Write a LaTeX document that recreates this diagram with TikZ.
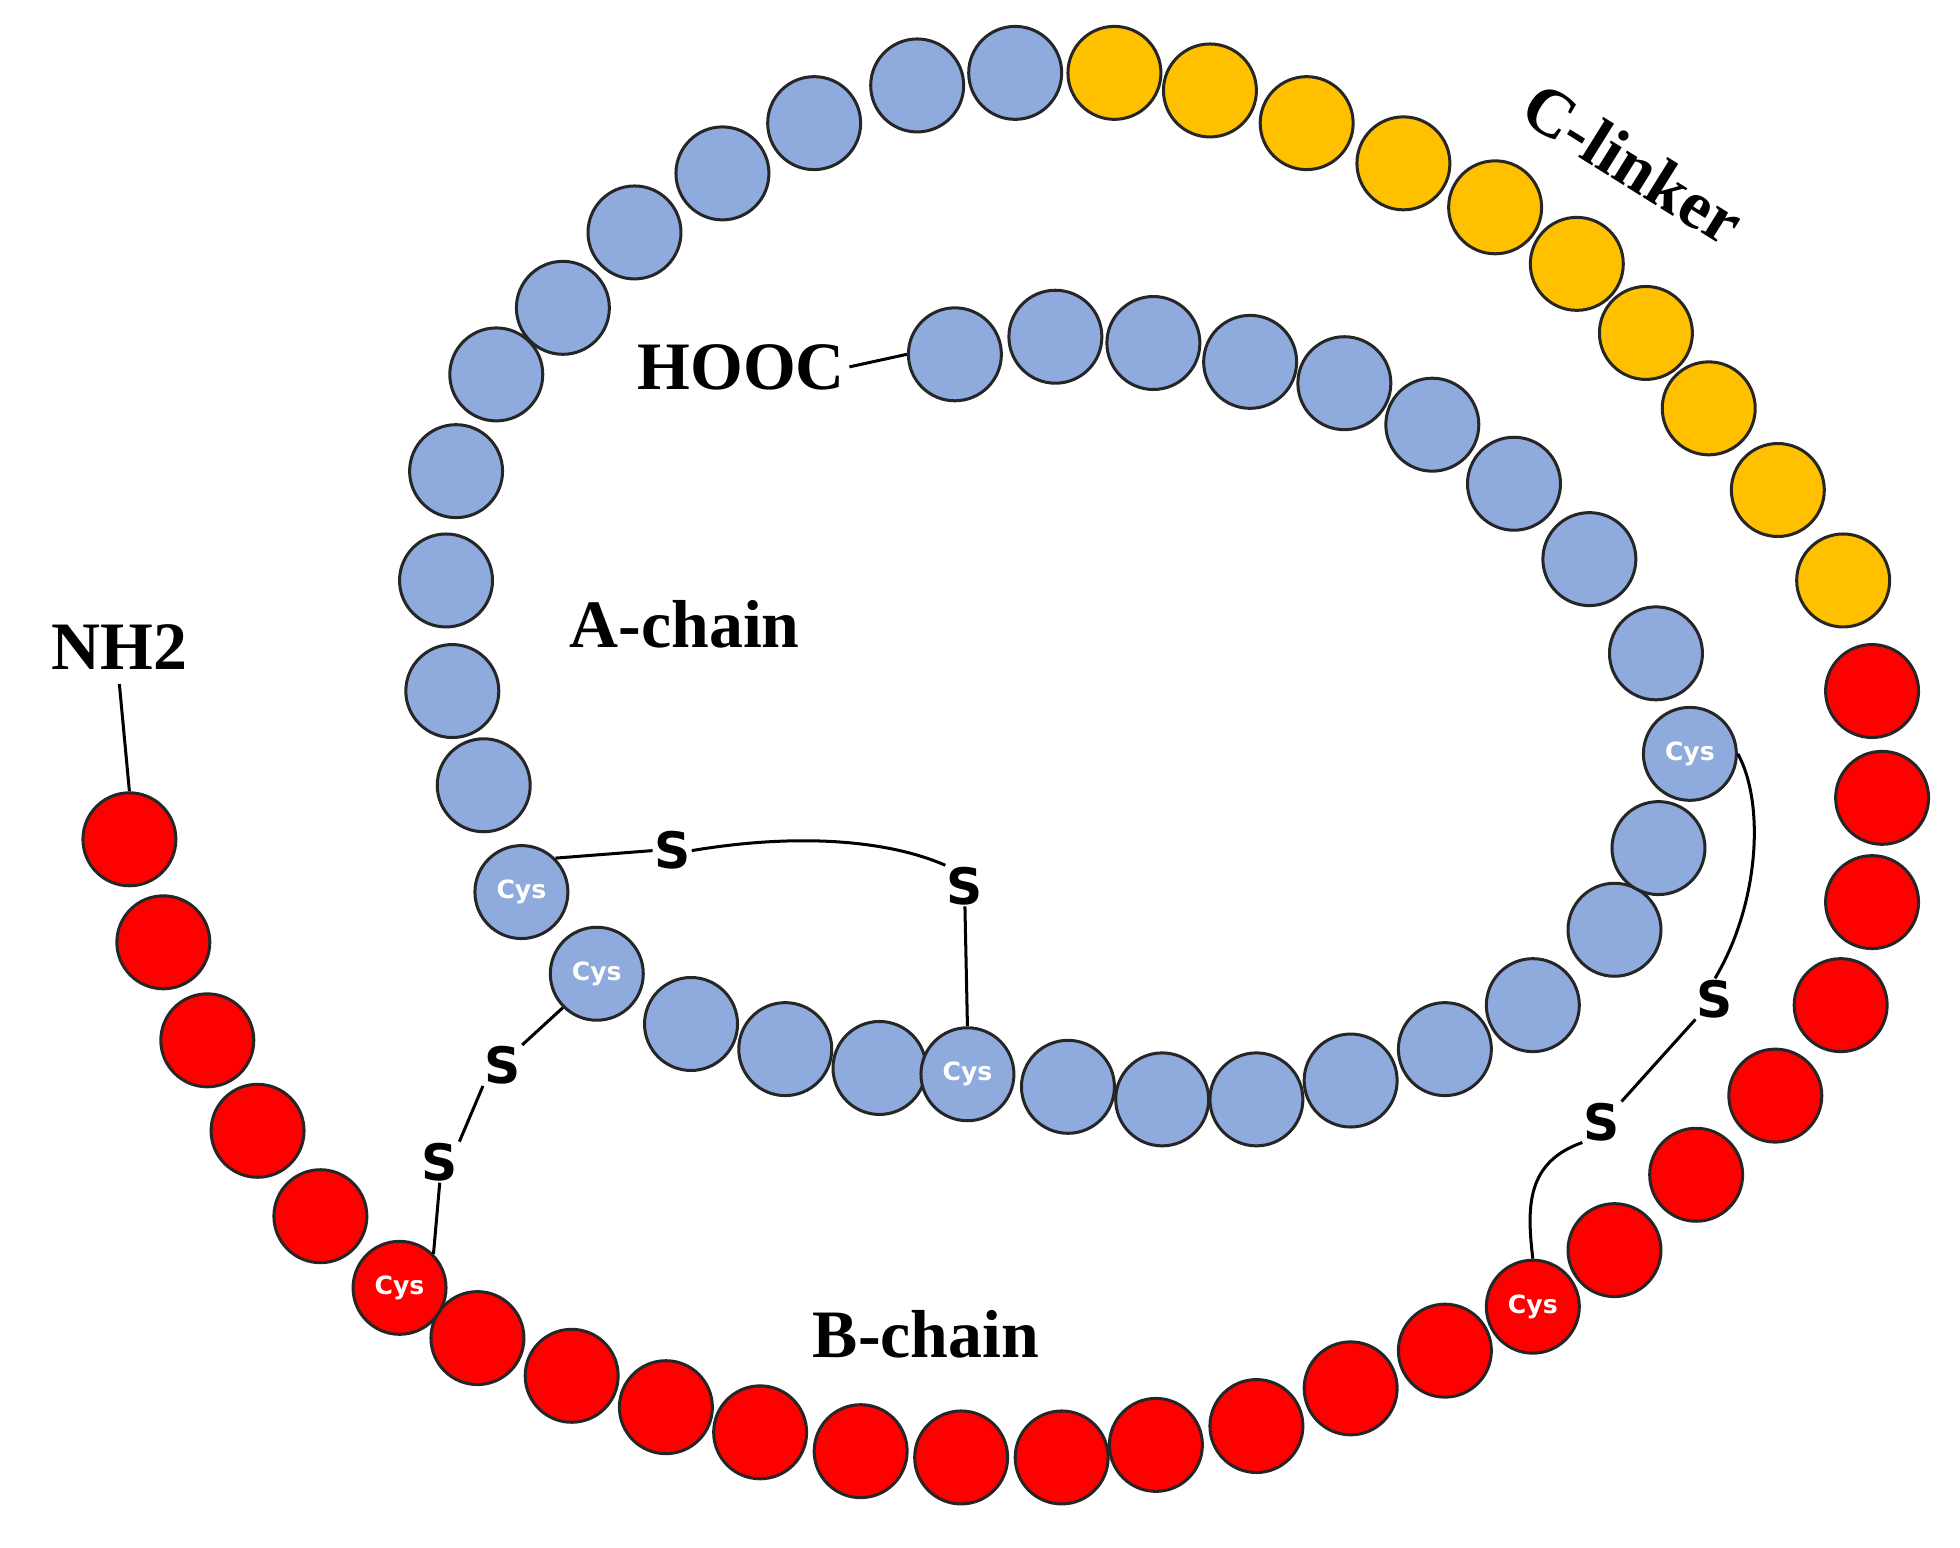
\documentclass[tikz,border=0pt]{standalone}
\usepackage{fontspec}
\setmainfont{Liberation Serif}
\newfontfamily\sfb{DejaVu Sans}
\definecolor{ablue}{RGB}{143,170,220}
\definecolor{cyel}{RGB}{255,192,0}
\definecolor{bred}{RGB}{255,0,0}
\begin{document}
\begin{tikzpicture}[x=1pt,y=-1pt,
  bead/.style={circle,draw=black!85,line width=2.4pt,minimum size=74pt,inner sep=0pt},
  cys/.style={bead,text=white,font=\sfb\bfseries\fontsize{20}{20}\selectfont},
  sl/.style={font=\sfb\bfseries\fontsize{40}{40}\selectfont,inner sep=1pt},
  lab/.style={font=\bfseries\fontsize{54}{54}\selectfont},
  bond/.style={line width=2.4pt}]
\useasboundingbox (0,0) rectangle (1560,1232);
% yellow C-linker
\foreach \x/\y [count=\i] in {887/58,963/72,1040/98,1117/130,1190/165,1255/210,1310/265,1360/325,1415/390,1467/462}
  \node[bead,fill=cyel] (y\i) at (\x,\y) {};
% red B-chain
\foreach \x/\y [count=\i] in {1490/550,1498/635,1490/718,1465/800,1413/872,1350/935,1285/995,1150/1075,1075/1105,1000/1135,920/1150,845/1160,765/1160,685/1155,605/1140,530/1120,455/1095,380/1065,255/968,205/900,165/828,130/750,103/668}
  \node[bead,fill=bred] (r\i) at (\x,\y) {};
\node[cys,fill=bred] (cb1) at (318,1025) {Cys};
\node[cys,fill=bred] (cb2) at (1220,1040) {Cys};
% blue outer/inner
\foreach \x/\y [count=\i] in {808/58,730/68,648/98,575/138,505/185,448/245,395/298,363/375,355/462,360/550,385/625,550/815,625/835,700/850,850/865,925/875,1000/875,1075/860,1150/835,1220/800,1285/740,1320/675,1318/520,1265/445,1205/385,1140/338,1070/305,995/288,918/273,840/268,760/282}
  \node[bead,fill=ablue] (a\i) at (\x,\y) {};
\node[cys,fill=ablue] (ca1) at (415,710) {Cys};
\node[cys,fill=ablue] (ca2) at (475,775) {Cys};
\node[cys,fill=ablue] (ca3) at (770,855) {Cys};
\node[cys,fill=ablue] (ca4) at (1345,600) {Cys};
% labels
\node[lab] (hooc) at (590,292) {HOOC};
\draw[bond] (hooc.east) -- (a31.west);
\node[lab] (achain) at (545,497) {A-chain};
\node[lab] (bchain) at (737,1062) {B-chain};
\node[lab,rotate=-32] (clink) at (1300,130) {C-linker};
\node[lab] (nh2) at (95,515) {NH2};
\draw[bond] (nh2.south) ++(0,8) coordinate (n0) (n0) -- (r23.north);
% S bonds
\node[sl] (s1) at (535,677) {S};
\node[sl] (s2) at (768,705) {S};
\node[sl] (s3) at (400,848) {S};
\node[sl] (s4) at (350,925) {S};
\node[sl] (s5) at (1365,795) {S};
\node[sl] (s6) at (1275,893) {S};
\draw[bond] (ca1.north east) -- (s1.west);
\draw[bond] (s1.east) .. controls (640,662) and (710,670) .. (s2.north west);
\draw[bond] (s2.south) -- (ca3.north);
\draw[bond] (ca2.south west) -- (s3.north east);
\draw[bond] (s3.south west) -- (s4.north east);
\draw[bond] (s4.south) -- (cb1.north east);
\draw[bond] (ca4.east) .. controls (1405,640) and (1400,720) .. (s5.north);
\draw[bond] (s5.south west) -- (s6.north east);
\draw[bond] (s6.south west) .. controls (1215,925) and (1215,960) .. (cb2.north);
\end{tikzpicture}
\end{document}
